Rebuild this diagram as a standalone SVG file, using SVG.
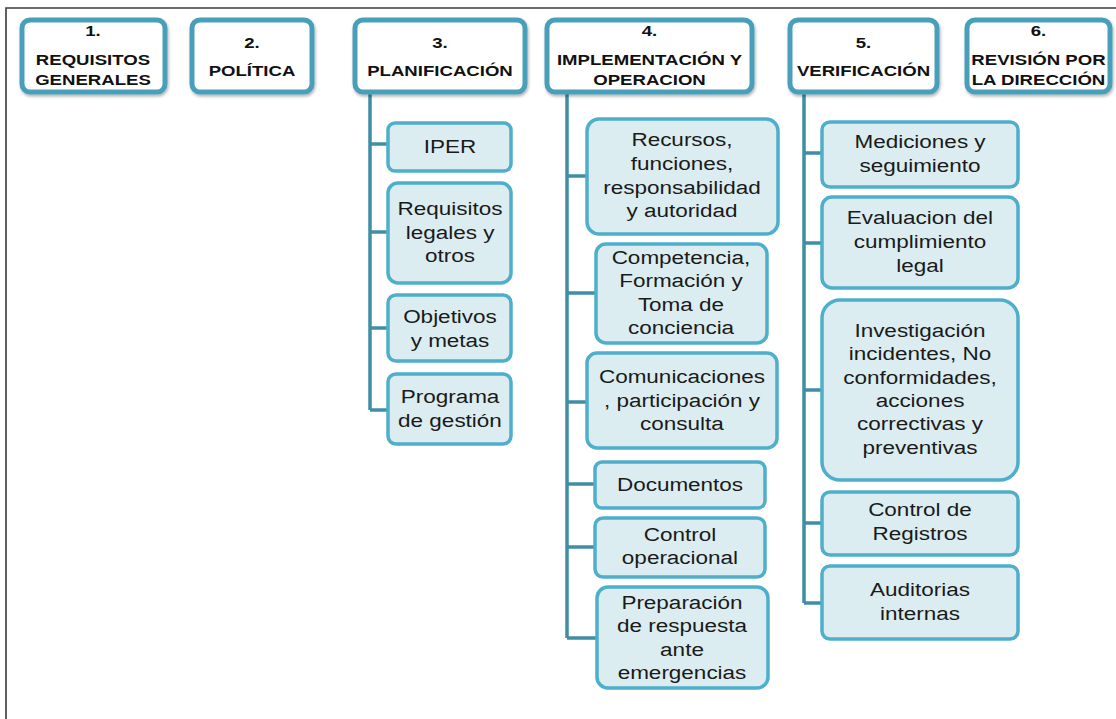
<svg xmlns="http://www.w3.org/2000/svg" width="1116" height="719" viewBox="0 0 1116 719">
<defs>
<filter id="sh" x="-10%" y="-10%" width="130%" height="140%">
<feDropShadow dx="1" dy="2" stdDeviation="1.5" flood-color="#000" flood-opacity="0.3"/>
</filter>
<style>
.frame{fill:none;stroke:#3a3a3a;stroke-width:1.6}
.top{fill:#fff;stroke:#4a9fba;stroke-width:5;filter:url(#sh)}
.child{fill:#dbedf0;stroke:#4eaecb;stroke-width:3.5}
.conn{fill:none;stroke:#3f8ea6;stroke-width:3.5}
.h{font-family:"Liberation Sans",Arial,sans-serif;font-weight:bold;font-size:15.5px;fill:#111;text-anchor:middle}
.t{font-family:"Liberation Sans",Arial,sans-serif;font-size:18px;fill:#1a1a1a;text-anchor:middle}
</style>
</defs>
<rect width="1116" height="719" fill="#fff"/>
<path class="frame" d="M6,719 V8 H1116"/>

<g id="connectors">
<path class="conn" d="M370,92 V410 M370,144 H388 M370,232 H388 M370,328 H388 M370,410 H388"/>
<path class="conn" d="M567,92 V638 M567,176 H587 M567,293 H596 M567,402 H587 M567,484 H595 M567,547 H595 M567,638 H597"/>
<path class="conn" d="M804,92 V603 M804,153 H822 M804,243 H822 M804,390 H822 M804,523 H822 M804,603 H822"/>
</g>

<g id="n1"><rect class="top" x="22" y="20" width="143" height="72" rx="8"/>
<text class="h" transform="translate(93 0) scale(1.2 1)"><tspan x="0" y="36">1.</tspan><tspan x="0" y="65">REQUISITOS</tspan><tspan x="0" y="85">GENERALES</tspan></text></g>
<g id="n2"><rect class="top" x="192" y="20" width="120" height="72" rx="8"/>
<text class="h" transform="translate(252 0) scale(1.2 1)"><tspan x="0" y="48">2.</tspan><tspan x="0" y="76">POLÍTICA</tspan></text></g>
<g id="n3"><rect class="top" x="355" y="20" width="170" height="72" rx="8"/>
<text class="h" transform="translate(440 0) scale(1.2 1)"><tspan x="0" y="48">3.</tspan><tspan x="0" y="76">PLANIFICACIÓN</tspan></text></g>
<g id="n4"><rect class="top" x="547" y="20" width="205" height="72" rx="8"/>
<text class="h" transform="translate(649.5 0) scale(1.2 1)"><tspan x="0" y="36">4.</tspan><tspan x="0" y="65">IMPLEMENTACIÓN Y</tspan><tspan x="0" y="85">OPERACION</tspan></text></g>
<g id="n5"><rect class="top" x="790" y="20" width="147" height="72" rx="8"/>
<text class="h" transform="translate(863.5 0) scale(1.2 1)"><tspan x="0" y="48">5.</tspan><tspan x="0" y="76">VERIFICACIÓN</tspan></text></g>
<g id="n6"><rect class="top" x="967" y="20" width="143" height="72" rx="8"/>
<text class="h" transform="translate(1038.5 0) scale(1.2 1)"><tspan x="0" y="36">6.</tspan><tspan x="0" y="65">REVISIÓN POR</tspan><tspan x="0" y="85">LA DIRECCIÓN</tspan></text></g>

<g id="c3a"><rect class="child" x="388" y="123" width="123" height="48" rx="7"/>
<text class="t" transform="translate(450 0) scale(1.25 1)"><tspan x="0" y="153">IPER</tspan></text></g>
<g id="c3b"><rect class="child" x="388" y="183" width="123" height="100" rx="10"/>
<text class="t" transform="translate(450 0) scale(1.25 1)"><tspan x="0" y="215">Requisitos</tspan><tspan x="0" y="239">legales y</tspan><tspan x="0" y="262">otros</tspan></text></g>
<g id="c3c"><rect class="child" x="388" y="295" width="123" height="66" rx="8"/>
<text class="t" transform="translate(450 0) scale(1.25 1)"><tspan x="0" y="323">Objetivos</tspan><tspan x="0" y="347">y metas</tspan></text></g>
<g id="c3d"><rect class="child" x="388" y="374" width="123" height="70" rx="8"/>
<text class="t" transform="translate(450 0) scale(1.25 1)"><tspan x="0" y="403">Programa</tspan><tspan x="0" y="427">de gestión</tspan></text></g>

<g id="c4a"><rect class="child" x="587" y="119" width="191" height="115" rx="12"/>
<text class="t" transform="translate(682 0) scale(1.25 1)"><tspan x="0" y="146">Recursos,</tspan><tspan x="0" y="170">funciones,</tspan><tspan x="0" y="194">responsabilidad</tspan><tspan x="0" y="217">y autoridad</tspan></text></g>
<g id="c4b"><rect class="child" x="596" y="244" width="171" height="99" rx="10"/>
<text class="t" transform="translate(681 0) scale(1.25 1)"><tspan x="0" y="264">Competencia,</tspan><tspan x="0" y="287">Formación y</tspan><tspan x="0" y="311">Toma de</tspan><tspan x="0" y="334">conciencia</tspan></text></g>
<g id="c4c"><rect class="child" x="587" y="353" width="190" height="95" rx="10"/>
<text class="t" transform="translate(682 0) scale(1.25 1)"><tspan x="0" y="383">Comunicaciones</tspan><tspan x="0" y="407">, participación y</tspan><tspan x="0" y="430">consulta</tspan></text></g>
<g id="c4d"><rect class="child" x="595" y="462" width="170" height="46" rx="7"/>
<text class="t" transform="translate(680 0) scale(1.25 1)"><tspan x="0" y="491">Documentos</tspan></text></g>
<g id="c4e"><rect class="child" x="595" y="518" width="170" height="59" rx="8"/>
<text class="t" transform="translate(680 0) scale(1.25 1)"><tspan x="0" y="541">Control</tspan><tspan x="0" y="564">operacional</tspan></text></g>
<g id="c4f"><rect class="child" x="597" y="587" width="171" height="101" rx="11"/>
<text class="t" transform="translate(682 0) scale(1.25 1)"><tspan x="0" y="609">Preparación</tspan><tspan x="0" y="632">de respuesta</tspan><tspan x="0" y="656">ante</tspan><tspan x="0" y="679">emergencias</tspan></text></g>

<g id="c5a"><rect class="child" x="822" y="122" width="196" height="65" rx="8"/>
<text class="t" transform="translate(920 0) scale(1.25 1)"><tspan x="0" y="148">Mediciones y</tspan><tspan x="0" y="172">seguimiento</tspan></text></g>
<g id="c5b"><rect class="child" x="822" y="197" width="196" height="91" rx="10"/>
<text class="t" transform="translate(920 0) scale(1.25 1)"><tspan x="0" y="224">Evaluacion del</tspan><tspan x="0" y="248">cumplimiento</tspan><tspan x="0" y="272">legal</tspan></text></g>
<g id="c5c"><rect class="child" x="822" y="300" width="196" height="180" rx="18"/>
<text class="t" transform="translate(920 0) scale(1.25 1)"><tspan x="0" y="337">Investigación</tspan><tspan x="0" y="360">incidentes, No</tspan><tspan x="0" y="384">conformidades,</tspan><tspan x="0" y="407">acciones</tspan><tspan x="0" y="430">correctivas y</tspan><tspan x="0" y="454">preventivas</tspan></text></g>
<g id="c5d"><rect class="child" x="822" y="492" width="196" height="63" rx="8"/>
<text class="t" transform="translate(920 0) scale(1.25 1)"><tspan x="0" y="516">Control de</tspan><tspan x="0" y="540">Registros</tspan></text></g>
<g id="c5e"><rect class="child" x="822" y="566" width="196" height="73" rx="8"/>
<text class="t" transform="translate(920 0) scale(1.25 1)"><tspan x="0" y="596">Auditorias</tspan><tspan x="0" y="620">internas</tspan></text></g>
</svg>
